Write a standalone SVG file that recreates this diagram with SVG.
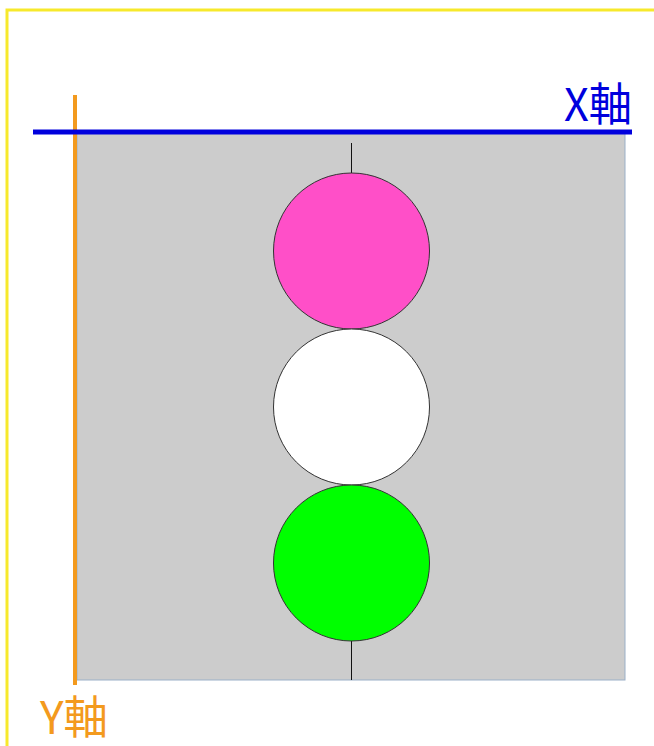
<svg xmlns="http://www.w3.org/2000/svg" width="654" height="746" viewBox="0 0 654 746">
<style>
.ball{stroke:#333;stroke-width:1}
.lbl{font-family:"Noto Sans CJK JP","Noto Sans",sans-serif;font-size:45px}
</style>
<rect x="0" y="0" width="654" height="746" fill="#fff"/>
<rect x="7" y="10" width="660" height="750" fill="none" stroke="#F7E92C" stroke-width="3"/>
<g id="area">
<rect x="77" y="133" width="548" height="547" fill="#CCCCCC" stroke="#9BB0C8" stroke-width="1"/>
</g>
<g id="connectors">
<line x1="351.5" y1="143" x2="351.5" y2="680" stroke="#111" stroke-width="1"/>
</g>
<g id="pink"><circle class="ball" cx="351.5" cy="251" r="78" fill="#FF4FC8"/></g>
<g id="white"><circle class="ball" cx="351.5" cy="407" r="78" fill="#FFFFFF"/></g>
<g id="green"><circle class="ball" cx="351.5" cy="563" r="78" fill="#00FF00"/></g>
<g id="yaxis">
<line x1="75" y1="95" x2="75" y2="685" stroke="#F39A1E" stroke-width="4"/>
<text class="lbl" x="40" y="734" fill="#F39A1E" textLength="68" lengthAdjust="spacingAndGlyphs">Y軸</text>
</g>
<g id="xaxis">
<line x1="33" y1="132" x2="632" y2="132" stroke="#0000DD" stroke-width="5"/>
<text class="lbl" x="564" y="121" fill="#0000DD" textLength="68" lengthAdjust="spacingAndGlyphs">X軸</text>
</g>
</svg>
